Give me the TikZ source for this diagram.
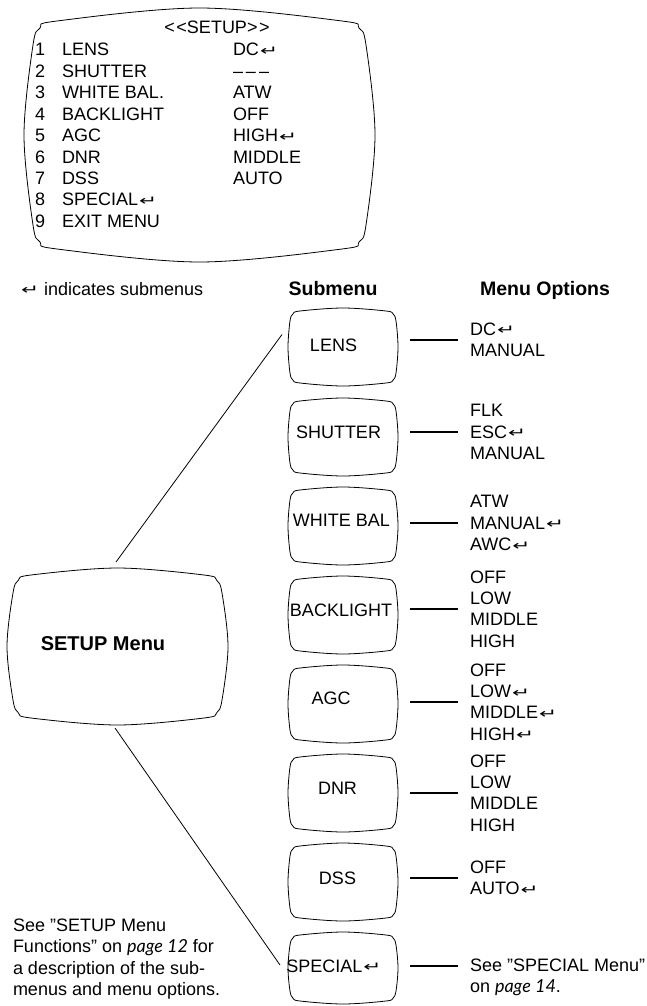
\documentclass[tikz,border=0pt]{standalone}
\usepackage{fontspec}
\usepackage{graphicx}
\setmainfont{Liberation Sans}
\newfontfamily\symfnt{DejaVu Sans}
\newfontfamily\pgfnt{Lato}
\usetikzlibrary{calc}
\newcommand\ret{\kern1pt{\symfnt\raisebox{0.5pt}{\scalebox{1.2}[0.75]{↵}}}}
\newcommand\tvframe[4]{%
 \draw[frame] plot[smooth cycle, tension=0.55] coordinates {
  ($(#1.north)+(0,-#2)$)
  ($(#1.north east)+(-#4,0)$)
  ($(#1.north east)+(-0.293*#4,0.293*#4)$)
  ($(#1.north east)+(0,#4)$)
  ($(#1.east)+(#3,0)$)
  ($(#1.south east)+(0,-#4)$)
  ($(#1.south east)+(-0.293*#4,-0.293*#4)$)
  ($(#1.south east)+(-#4,0)$)
  ($(#1.south)+(0,#2)$)
  ($(#1.south west)+(#4,0)$)
  ($(#1.south west)+(0.293*#4,-0.293*#4)$)
  ($(#1.south west)+(0,-#4)$)
  ($(#1.west)+(-#3,0)$)
  ($(#1.north west)+(0,#4)$)
  ($(#1.north west)+(0.293*#4,0.293*#4)$)
  ($(#1.north west)+(#4,0)$)
 };}
\begin{document}
\begin{tikzpicture}[x=1pt,y=-1pt,
  every node/.style={font=\fontsize{18}{21.4}\selectfont, inner sep=0pt, outer sep=0pt},
  frame/.style={line width=0.8pt},
  sub/.style={minimum width=106pt, minimum height=72pt},
  lbl/.style={anchor=base},
  opt/.style={anchor=west, align=left},
  conn/.style={line width=1.6pt},
  diag/.style={line width=0.8pt},
  hdr/.style={anchor=base, font=\fontsize{19.5}{23}\selectfont\bfseries}]
\useasboundingbox (0,0) rectangle (646,1006);

% ---- top SETUP screen ----
\node[minimum width=333pt, minimum height=228pt] (screen) at (199.5,135) {};
\tvframe{screen}{13}{9}{24}
\node[lbl] (title) at (217,34) {<\kern1.5pt<SETUP>\kern1.5pt>};
\foreach \i/\nm in {1/LENS,2/SHUTTER,3/WHITE BAL.,4/BACKLIGHT,5/AGC,6/DNR,7/DSS,8/SPECIAL\ret,9/EXIT MENU}{
  \node[anchor=base west] (num\i) at (35,{56+(\i-1)*21.4}) {\i};
  \node[anchor=base west] (name\i) at (62,{56+(\i-1)*21.4}) {\nm};
}
\foreach \i/\v in {1/DC\ret,2/{–\kern3pt–\kern3pt–},3/ATW,4/OFF,5/HIGH\ret,6/MIDDLE,7/AUTO}{
  \node[anchor=base west] (val\i) at (233,{56+(\i-1)*21.4}) {\v};
}

% ---- headers ----
\node[anchor=base west] (legend) at (20,295) {\ret\ indicates submenus};
\node[hdr] (hsub) at (333,295) {Submenu};
\node[hdr] (hopt) at (545,295) {Menu Options};

% ---- SETUP Menu box ----
\node[minimum width=209pt, minimum height=143pt] (setup) at (117.5,646.5) {};
\tvframe{setup}{7}{6}{18}
\node[lbl, font=\fontsize{20}{24}\selectfont\bfseries] (setupt) at (103,650) {SETUP Menu};

% ---- submenu boxes ----
\foreach \n/\cy in {lens/347,shutter/437,white/526,back/615,agc/704,dnr/793,dss/882}{
  \node[sub] (\n box) at (343,\cy) {};
  \tvframe{\n box}{3}{2}{10}
}
\node[minimum width=106pt, minimum height=66pt] (specialbox) at (343,968) {};
\tvframe{specialbox}{3}{2}{10}

\node[lbl] (lenst) at (333.5,351.5) {LENS};
\node[lbl] (shuttert) at (338.5,438) {SHUTTER};
\node[lbl] (whitet) at (341.5,526.5) {WHITE BAL};
\node[lbl] (backt) at (341,616) {BACKLIGHT};
\node[lbl] (agct) at (331,704) {AGC};
\node[lbl] (dnrt) at (337.5,794) {DNR};
\node[lbl] (dsst) at (337.5,884) {DSS};
\node[lbl] (specialt) at (334,972) {SPECIAL\ret};

% ---- option lists ----
\node[opt] (lensopt) at (470,340) {DC\ret\\MANUAL};
\node[opt] (shutteropt) at (470,432) {FLK\\ESC\ret\\MANUAL};
\node[opt] (whiteopt) at (470,523) {ATW\\MANUAL\ret\\AWC\ret};
\node[opt] (backopt) at (470,609) {OFF\\LOW\\MIDDLE\\HIGH};
\node[opt] (agcopt) at (470,702) {OFF\\LOW\ret\\MIDDLE\ret\\HIGH\ret};
\node[opt] (dnropt) at (470,793) {OFF\\LOW\\MIDDLE\\HIGH};
\node[opt] (dssopt) at (470,878) {OFF\\AUTO\ret};
\node[anchor=north west, align=left] (specialopt) at (470,959) {See ”SPECIAL Menu”\\on {\pgfnt\itshape page 14}.};

\foreach \n in {lens,shutter,white,back,agc,dnr,dss}{
  \draw[conn] ([xshift=14pt]\n box.east |- \n opt.west) -- ([xshift=-12pt]\n opt.west);
}
\draw[conn] ([xshift=14pt,yshift=-7pt]specialbox.east |- specialopt.north west) -- ([xshift=-12pt,yshift=-7pt]specialopt.north west);

% ---- diagonal links ----
\draw[diag] ($(setup.north)+(-1.5,-13)$) -- ($(lensbox.west)+(-8,-12.5)$);
\draw[diag] ($(setup.south)+(-2.5,10)$) -- ($(specialbox.west)+(-10,-3)$);

% ---- note ----
\node[anchor=north west, align=left] (note) at (13,919) {See ”SETUP Menu\\Functions” on {\pgfnt\itshape page 12} for\\a description of the sub-\\menus and menu options.};
\end{tikzpicture}
\end{document}
